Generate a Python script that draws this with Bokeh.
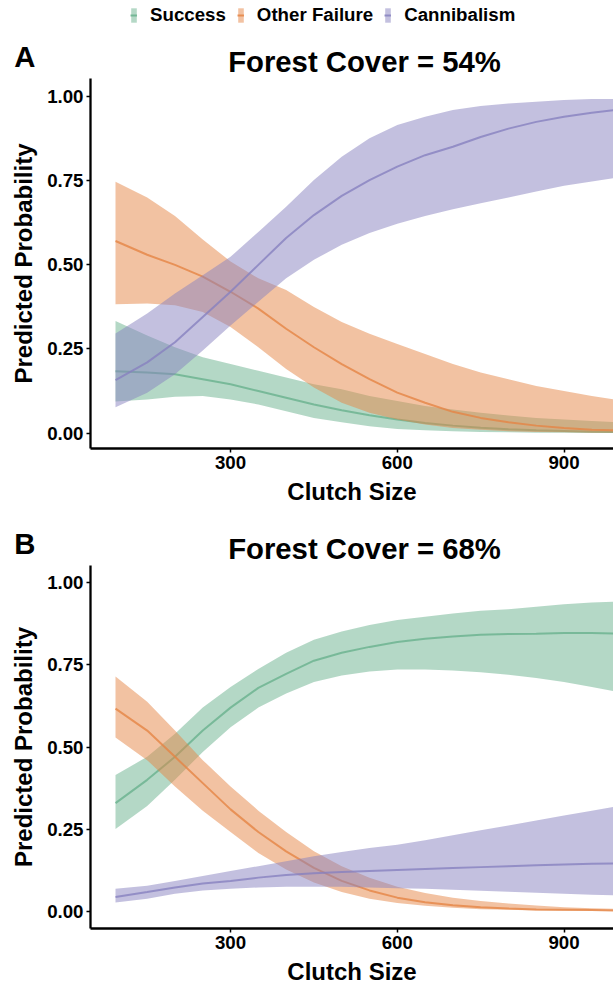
from bokeh.plotting import figure
from bokeh.models import Range1d, Label, Legend, LegendItem, FixedTicker, NumeralTickFormatter
from bokeh.layouts import column
from bokeh.embed import file_html
from bokeh.resources import INLINE

FONT = "Liberation Sans"

clutch = [93, 150, 200, 250, 300, 350, 400, 450, 500, 550, 600, 650, 700, 750, 800, 850, 900, 950, 990]

# Panel A: Forest Cover = 54%
a_success = [0.184, 0.180, 0.175, 0.160, 0.145, 0.125, 0.105, 0.085, 0.068, 0.053, 0.040, 0.030, 0.022, 0.016, 0.011, 0.008, 0.006, 0.004, 0.003]
a_success_lo = [0.094, 0.100, 0.108, 0.110, 0.100, 0.085, 0.065, 0.045, 0.032, 0.020, 0.012, 0.008, 0.005, 0.003, 0.002, 0.001, 0.001, 0.001, 0.001]
a_success_hi = [0.333, 0.290, 0.255, 0.225, 0.205, 0.185, 0.165, 0.145, 0.130, 0.110, 0.095, 0.080, 0.070, 0.060, 0.052, 0.045, 0.040, 0.036, 0.033]
a_other = [0.571, 0.530, 0.500, 0.465, 0.420, 0.370, 0.310, 0.255, 0.205, 0.160, 0.120, 0.090, 0.063, 0.045, 0.032, 0.022, 0.015, 0.010, 0.008]
a_other_lo = [0.383, 0.385, 0.380, 0.360, 0.315, 0.255, 0.190, 0.135, 0.090, 0.060, 0.040, 0.025, 0.015, 0.010, 0.005, 0.003, 0.002, 0.001, 0.001]
a_other_hi = [0.747, 0.700, 0.645, 0.575, 0.510, 0.460, 0.425, 0.375, 0.330, 0.295, 0.265, 0.235, 0.205, 0.180, 0.160, 0.140, 0.125, 0.110, 0.100]
a_cannibal = [0.157, 0.210, 0.270, 0.345, 0.420, 0.500, 0.580, 0.648, 0.705, 0.752, 0.792, 0.826, 0.851, 0.880, 0.905, 0.925, 0.940, 0.952, 0.960]
a_cannibal_lo = [0.077, 0.120, 0.175, 0.245, 0.320, 0.390, 0.460, 0.515, 0.560, 0.595, 0.622, 0.645, 0.665, 0.683, 0.700, 0.718, 0.735, 0.748, 0.758]
a_cannibal_hi = [0.296, 0.355, 0.415, 0.469, 0.524, 0.598, 0.673, 0.752, 0.821, 0.876, 0.916, 0.940, 0.960, 0.972, 0.980, 0.985, 0.990, 0.993, 0.993]

# Panel B: Forest Cover = 68%
b_success = [0.329, 0.400, 0.470, 0.550, 0.620, 0.680, 0.723, 0.763, 0.787, 0.805, 0.820, 0.830, 0.837, 0.842, 0.844, 0.845, 0.847, 0.847, 0.846]
b_success_lo = [0.250, 0.320, 0.400, 0.485, 0.560, 0.620, 0.663, 0.698, 0.718, 0.730, 0.736, 0.736, 0.733, 0.728, 0.720, 0.710, 0.698, 0.683, 0.670]
b_success_hi = [0.415, 0.470, 0.540, 0.620, 0.683, 0.738, 0.787, 0.827, 0.852, 0.872, 0.887, 0.897, 0.907, 0.915, 0.920, 0.927, 0.935, 0.940, 0.943]
b_other = [0.617, 0.550, 0.470, 0.390, 0.310, 0.241, 0.182, 0.132, 0.092, 0.063, 0.041, 0.027, 0.018, 0.012, 0.008, 0.005, 0.004, 0.003, 0.002]
b_other_lo = [0.529, 0.460, 0.380, 0.306, 0.241, 0.177, 0.127, 0.087, 0.058, 0.038, 0.025, 0.016, 0.010, 0.006, 0.004, 0.002, 0.001, 0.001, 0.001]
b_other_hi = [0.715, 0.638, 0.550, 0.460, 0.380, 0.306, 0.241, 0.182, 0.137, 0.102, 0.074, 0.055, 0.041, 0.031, 0.023, 0.017, 0.012, 0.009, 0.007]
b_cannibal = [0.043, 0.058, 0.072, 0.084, 0.092, 0.102, 0.110, 0.115, 0.119, 0.122, 0.125, 0.128, 0.131, 0.134, 0.137, 0.140, 0.142, 0.144, 0.145]
b_cannibal_lo = [0.026, 0.038, 0.053, 0.063, 0.068, 0.072, 0.074, 0.074, 0.074, 0.072, 0.070, 0.068, 0.065, 0.062, 0.059, 0.056, 0.053, 0.050, 0.048]
b_cannibal_hi = [0.068, 0.077, 0.092, 0.107, 0.122, 0.137, 0.152, 0.167, 0.180, 0.192, 0.202, 0.216, 0.231, 0.246, 0.261, 0.276, 0.291, 0.306, 0.318]

categories = ["Success", "Other Failure", "Cannibalism"]
colors = ["#69b18d", "#e58545", "#8781bf"]
x_ticks = [300, 600, 900]
y_ticks = [0, 0.25, 0.5, 0.75, 1.0]

W = 613
SERIES_A = [(a_success, a_success_lo, a_success_hi),
            (a_other, a_other_lo, a_other_hi),
            (a_cannibal, a_cannibal_lo, a_cannibal_hi)]
SERIES_B = [(b_success, b_success_lo, b_success_hi),
            (b_other, b_other_lo, b_other_hi),
            (b_cannibal, b_cannibal_lo, b_cannibal_hi)]


def header(letter, title, height, letter_c, title_c, legend_series=None, legend_top=8):
    # letter_c / title_c: distance of the text's centre from the header's top, in pixels
    h = figure(width=W, height=height, output_backend="svg", toolbar_location=None,
               x_axis_type=None, min_border=0, min_border_left=90,
               x_range=Range1d(0, 1), y_range=Range1d(0, height))
    h.outline_line_color = None
    h.background_fill_color = "white"
    h.border_fill_color = "white"
    h.grid.visible = False
    ya = h.yaxis[0]
    ya.ticker = FixedTicker(ticks=[height - letter_c])
    ya.major_label_overrides = {height - letter_c: letter}
    ya.axis_line_color = None
    ya.major_tick_line_color = None
    ya.minor_tick_line_color = None
    ya.major_tick_in = 0
    ya.major_tick_out = 0
    ya.major_label_standoff = 55
    ya.major_label_text_font = FONT
    ya.major_label_text_font_style = "bold"
    ya.major_label_text_font_size = "29.3px"
    ya.major_label_text_color = "black"
    h.add_layout(Label(x=274, y=height - title_c, x_units="screen", y_units="screen", text=title,
                       text_font=FONT, text_font_style="bold", text_font_size="29.3px",
                       text_color="black", text_baseline="middle", text_align="center"))
    if legend_series is not None:
        h.extra_y_ranges = {"off": Range1d(5, 6)}
        items = []
        for (fit, lo, hi), name, col in zip(legend_series, categories, colors):
            band = h.varea(x=clutch, y1=lo, y2=hi, fill_color=col, fill_alpha=0.5, y_range_name="off")
            ln = h.line(x=clutch, y=fit, line_color=col, line_alpha=0.85, line_width=2, y_range_name="off")
            items.append(LegendItem(label=name, renderers=[band, ln]))
        lg = Legend(items=items, orientation="horizontal", location=(40, height - legend_top - 18),
                    glyph_width=7, glyph_height=18, label_height=18, label_standoff=13,
                    spacing=11, padding=0, margin=0, border_line_alpha=0,
                    background_fill_alpha=0, label_text_font=FONT,
                    label_text_font_style="bold", label_text_font_size="18.7px",
                    label_text_color="black")
        h.add_layout(lg)
    return h


def panel(series, height, bottom, yr):
    p = figure(width=W, height=height, output_backend="svg", toolbar_location=None,
               x_range=Range1d(48, 989), y_range=Range1d(*yr),
               min_border_left=90, min_border_right=0, min_border_top=0, min_border_bottom=bottom)
    p.outline_line_color = None
    p.grid.visible = False
    p.background_fill_color = "white"
    p.border_fill_color = "white"
    for (fit, lo, hi), col in zip(series, colors):
        p.varea(x=clutch, y1=lo, y2=hi, fill_color=col, fill_alpha=0.5)
        p.line(x=clutch, y=fit, line_color=col, line_alpha=0.8, line_width=2)
    for ax in (p.xaxis[0], p.yaxis[0]):
        ax.axis_line_width = 2.3
        ax.axis_line_color = "black"
        ax.major_tick_line_color = "black"
        ax.major_tick_line_width = 1.5
        ax.major_tick_in = 0
        ax.major_tick_out = 4
        ax.minor_tick_line_color = None
        ax.major_label_text_font = FONT
        ax.major_label_text_font_style = "bold"
        ax.major_label_text_font_size = "18.7px"
        ax.major_label_text_color = "black"
        ax.axis_label_text_font = FONT
        ax.axis_label_text_font_style = "bold"
        ax.axis_label_text_font_size = "24px"
        ax.axis_label_text_color = "black"
    p.xaxis.ticker = FixedTicker(ticks=x_ticks)
    p.yaxis.ticker = FixedTicker(ticks=y_ticks)
    p.yaxis.formatter = NumeralTickFormatter(format="0.00")
    p.xaxis.axis_label = "Clutch Size"
    p.yaxis.axis_label = "Predicted Probability"
    p.xaxis.major_label_standoff = 3
    p.yaxis.major_label_standoff = 3
    p.xaxis.axis_label_standoff = 6
    p.yaxis.axis_label_standoff = 7
    return p


hA = header("A", "Forest Cover = 54%", 78, 56, 61, legend_series=SERIES_A)
pA = panel(SERIES_A, 442, 72, (-0.046, 1.054))
hB = header("B", "Forest Cover = 68%", 45, 23, 27.5)
pB = panel(SERIES_B, 422, 52, (-0.053, 1.053))

layout = column(hA, pA, hB, pB, spacing=0)
open("out.html", "w").write(file_html(layout, INLINE))
